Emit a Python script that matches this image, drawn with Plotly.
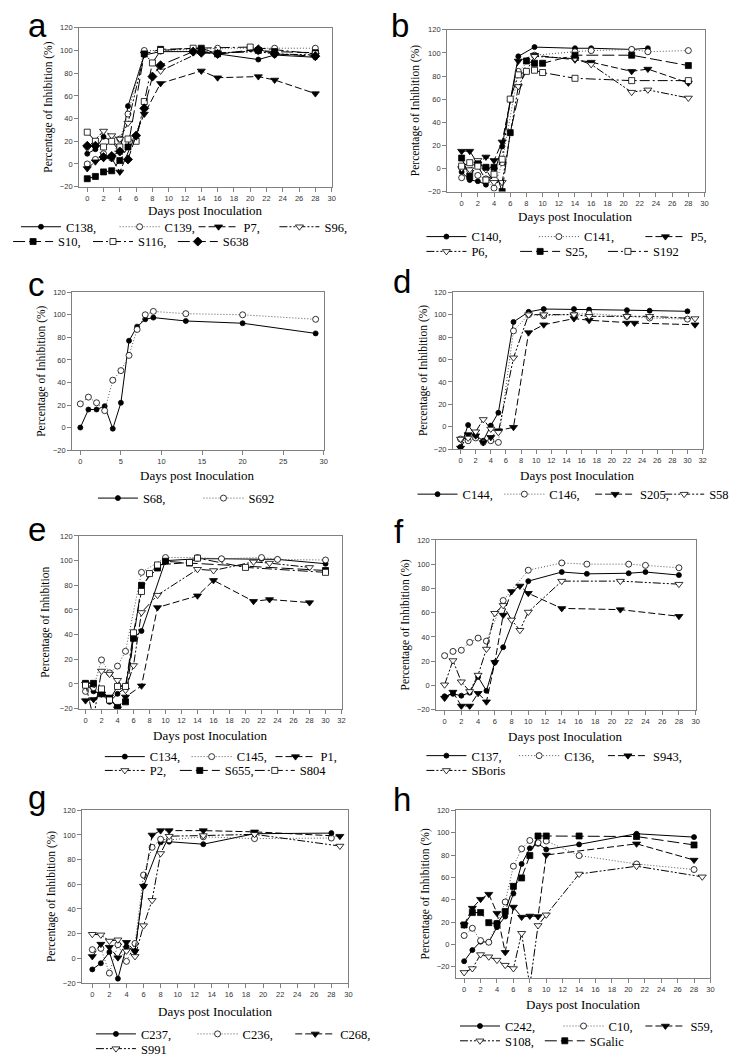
import plotly.graph_objects as go

W, H = 740, 1056

# ---------------- data (days post inoculation, % inhibition) ----------------
# panel a
A_C138_D = [0, 1, 2, 3, 4, 5, 7, 9, 14, 16, 21, 23, 28]
A_C138 = [9, 13, 24, 20, 11, 51, 96, 99, 99, 97, 92, 96, 94]
A_C139_D = [0, 1, 2, 3, 4, 5, 7, 9, 14, 16, 20, 23, 28]
A_C139 = [0, 4, 9, 5, 22, 44, 100, 100, 101, 102, 102, 102, 102]
A_P7_D = [0, 1, 2, 3, 4, 7, 9, 14, 16, 21, 23, 28]
A_P7 = [-4, 2, 5, 5, -7, 44, 71, 82, 76, 77, 74, 62]
A_S96_D = [0, 2, 3, 4, 5, 7, 9, 14, 16, 21, 23, 28]
A_S96 = [14, 29, 25, 22, 36, 97, 82, 99, 98, 99, 97, 96]
A_S10_D = [0, 1, 2, 3, 4, 5, 7, 9, 14, 16, 21, 23, 28]
A_S10 = [-13, -11, -7, -6, 3, 15, 97, 101, 102, 97, 100, 99, 98]
A_S116_D = [0, 1, 2, 3, 4, 5, 6, 7, 8, 9, 13, 20, 28]
A_S116 = [28, 20, 15, 20, 15, 22, 20, 55, 89, 100, 102, 103, 97]
A_S638_D = [0, 1, 2, 3, 4, 5, 6, 7, 8, 9, 13, 14, 16, 21, 23, 28]
A_S638 = [16, 16, 6, 7, 11, 4, 25, 49, 77, 87, 99, 98, 97, 101, 97, 95]

# panel b
B_C140_D = [0, 1, 2, 3, 4, 5, 7, 9, 14, 16, 21, 23]
B_C140 = [-3, -10, -11, -14, -5, 19, 97, 105, 104, 104, 103, 104]
B_C141_D = [0, 1, 2, 3, 4, 5, 7, 9, 14, 16, 21, 23, 28]
B_C141 = [-8, -2, -6, -9, -17, 5, 84, 98, 101, 102, 103, 101, 102]
B_P5_D = [0, 1, 2, 3, 4, 5, 7, 9, 14, 16, 21, 23, 28]
B_P5 = [15, 15, 4, 10, 7, 23, 93, 98, 94, 92, 84, 86, 74]
B_P6_D = [0, 1, 2, 3, 4, 5, 7, 9, 14, 16, 21, 23, 28]
B_P6 = [0, -1, 7, -1, -12, -12, 71, 97, 95, 90, 66, 68, 61]
B_S25_D = [0, 1, 2, 3, 4, 5, 6, 8, 9, 10, 14, 21, 28]
B_S25 = [9, -7, 4, 1, 1, -20, 31, 93, 91, 91, 98, 98, 89]
B_S192_D = [0, 1, 2, 3, 4, 5, 6, 7, 8, 9, 10, 14, 21, 28]
B_S192 = [2, 5, 2, -10, -5, 8, 60, 81, 84, 85, 83, 78, 76, 76]

# panel c
C_S68_D = [0, 1, 2, 3, 4, 5, 6, 7, 8, 9, 13, 20, 29]
C_S68 = [0, 16, 16, 19, -1, 22, 77, 89.5, 96, 97.5, 94.5, 92.5, 83.5]
C_S692_D = [0, 1, 2, 3, 4, 5, 6, 7, 8, 9, 13, 20, 29]
C_S692 = [21, 27, 22, 15, 42, 50.5, 64, 87, 100, 103, 101, 100, 96]

# panel d
D_C144_D = [0, 1, 2, 3, 4, 5, 7, 9, 11, 15, 17, 22, 25, 30]
D_C144 = [-18, 1.5, -8, -12.5, 1, 12.5, 93.5, 102.5, 105, 105, 104.5, 104, 103.5, 103]
D_C146_D = [0, 1, 2, 3, 4, 5, 7, 9, 11, 15, 17, 22, 25, 30]
D_C146 = [-11, -12.5, -10, -14, -12.5, -14, 85.5, 100, 99, 100, 101, 98.5, 97, 96]
D_S205_D = [0, 1, 2, 3, 4, 5, 7, 9, 11, 15, 17, 22, 23, 31]
D_S205 = [-19, -7, -8, -14, -9.5, -3.5, -0.5, 84, 91, 96.5, 95, 92.5, 92.5, 91]
D_S58_D = [0, 1, 2, 3, 4, 5, 7, 9, 11, 15, 17, 22, 25, 31]
D_S58 = [-11, -10, -4.5, 6.5, -2, -5, 61.5, 100, 100, 100, 98.5, 98.5, 98.5, 96.5]

# panel e
E_C134_D = [0, 1, 2, 3, 4, 5, 6, 7, 10, 14, 17, 22, 24, 30]
E_C134 = [0, -6, -8, -14.5, -8, -3, 37, 43, 100, 101.5, 101.5, 101.5, 101, 97.5]
E_C145_D = [0, 1, 2, 3, 4, 5, 7, 10, 14, 17, 22, 24, 30]
E_C145 = [-6, -3, 19.5, 9, 14.5, 26.5, 90.5, 102.5, 102.5, 101.5, 102.5, 101, 100.5]
E_P1_D = [0, 1, 2, 3, 4, 5, 7, 9, 14, 16, 21, 23, 28]
E_P1 = [-13.5, -12.5, -8, -10.5, -20, -10.5, -1.5, 62, 71.5, 84, 67, 68.5, 66]
E_P2_D = [0, 1, 2, 3, 4, 5, 6, 7, 9, 14, 16, 21, 23, 28]
E_P2 = [0, -28, 10.5, 8, 3, -5, 15, 58, 72, 93, 92, 99, 98, 94.5]
E_S655_D = [0, 1, 2, 3, 4, 5, 6, 7, 9, 10, 13, 30]
E_S655 = [0.5, 0.5, -8, -12, -19, -14.5, 37, 80, 94, 99.5, 98, 92]
E_S804_D = [0, 2, 3, 4, 5, 6, 7, 8, 9, 13, 14, 20, 30]
E_S804 = [-1, -4, -13, -2, -2, 41.5, 75, 89.5, 96.5, 98.5, 102, 94.5, 90.5]

# panel f
F_C137_D = [0, 1, 2, 3, 4, 5, 6, 7, 10, 14, 17, 22, 24, 28]
F_C137 = [-9, -7, -8.5, -6, 7, -4.5, 19, 31.5, 86, 93.5, 92, 92.5, 93.5, 91]
F_C136_D = [0, 1, 2, 3, 4, 5, 7, 10, 14, 17, 22, 24, 28]
F_C136 = [24.5, 28, 29, 35.5, 39, 36.5, 70, 95, 101, 100, 100, 99, 97]
F_S943_D = [0, 1, 2, 3, 4, 5, 6, 7, 8, 9, 10, 14, 21, 28]
F_S943 = [-10.5, -5.5, -17, -17, -6.5, -13.5, 19, 58, 77.5, 82, 76, 63.5, 62.5, 57]
F_SBORIS_D = [0, 1, 2, 3, 4, 5, 6, 7, 8, 9, 10, 14, 21, 28]
F_SBORIS = [0.5, 20.5, 3, -5, 8.5, 30, 59.5, 66, 54, 45.5, 60.5, 86, 86, 83.5]

# panel g
G_C237_D = [0, 1, 2, 3, 4, 5, 6, 8, 9, 13, 19, 28]
G_C237 = [-9, -4, 5, -16.5, 9.5, 6, 58.5, 94, 94.5, 92.5, 101, 101.5]
G_C236_D = [0, 1, 2, 3, 4, 5, 6, 7, 8, 9, 13, 19, 28]
G_C236 = [7, 8, -12, 11, -2.5, 12, 67.5, 90, 96.5, 96, 98.5, 97, 97.5]
G_C268_D = [0, 1, 2, 3, 4, 5, 6, 7, 8, 9, 13, 19, 29]
G_C268 = [1.5, 11.5, 9, 0.5, 13, 5.5, 58.5, 100, 103.5, 103.5, 103.5, 102.5, 99]
G_S991_D = [0, 1, 2, 3, 4, 5, 6, 7, 8, 9, 13, 19, 29]
G_S991 = [19.5, 19, 14, 15, 6, 1.5, 26.5, 47, 85, 99, 99.5, 100.5, 91]

# panel h
H_C242_D = [0, 1, 2, 3, 4, 5, 6, 7, 8, 9, 10, 14, 21, 28]
H_C242 = [-15, -5, 2.5, 2, 15.5, 25, 45.5, 72, 86, 90, 85, 89.5, 99, 96]
H_C10_D = [0, 1, 2, 3, 4, 5, 6, 7, 8, 9, 10, 14, 21, 28]
H_C10 = [8, 14.5, 3.5, 2, 19, 38, 70, 85.5, 93, 91, 92.5, 79.5, 72, 67]
H_S59_D = [0, 1, 2, 3, 4, 5, 6, 7, 8, 9, 10, 21, 28]
H_S59 = [17.5, 32.5, 40.5, 45, 28, -7, 33.5, 24.5, 25.5, 25, 80, 90, 75.5]
H_S108_D = [0, 1, 2, 3, 4, 5, 6, 7, 8, 9, 10, 14, 21, 29]
H_S108 = [-25, -21.5, -9, -11, -14, -18.5, -21.5, 10, -37, 17, 26.5, 63, 70, 60.5]
H_SGALIC_D = [0, 1, 2, 3, 4, 5, 6, 7, 8, 9, 10, 14, 21, 28]
H_SGALIC = [17.5, 28.5, 28.5, 19.5, 18.5, 29.5, 52, 59.5, 79.5, 97, 97, 97, 96.5, 89]

Y_TICKS = [-20, 0, 20, 40, 60, 80, 100, 120]
X_TICKS_30 = list(range(0, 31, 2))
X_TICKS_32 = list(range(0, 33, 2))
X_TICKS_C = [0, 5, 10, 15, 20, 25, 30]

X_TITLE = "Days post Inoculation"

# ---------------- styles ----------------
STYLES = [
    dict(dash="solid", symbol="circle", fill="black", size=5, color="black"),
    dict(dash="1px,2px", symbol="circle", fill="white", size=6, color="#555555"),
    dict(dash="7px,3px", symbol="triangle-down", fill="black", size=7, color="black"),
    dict(dash="8px,2px,2px,2px,2px,2px", symbol="triangle-down", fill="white", size=7, color="black"),
    dict(dash="12px,4px", symbol="square", fill="black", size=6, color="black"),
    dict(dash="10px,3px,2px,3px", symbol="square", fill="white", size=6, color="black"),
    dict(dash="12px,4px", symbol="diamond", fill="black", size=7, color="black"),
]

SERIF = "Liberation Serif, Times New Roman, serif"
SANS = "Liberation Sans, Arial, sans-serif"

# panel definitions (layout in px): plot box (x0,x1,y0,y1), letter position,
# y-title centre x, x-title centre y; series: (label, days, values, legend text x, legend row y)
PANELS = [
    dict(letter="a", box=(66, 322, 16, 177), xr=[-1, 30], xt=X_TICKS_30, yr=[-20, 120],
         yt="Percentage of Inhibition (%)", lab=(12, 27), ytx=35, xty=201,
         series=[("C138,", A_C138_D, A_C138, 52, 218), ("C139,", A_C139_D, A_C139, 152, 218),
                 ("P7,", A_P7_D, A_P7, 232, 218), ("S96,", A_S96_D, A_S96, 314, 218),
                 ("S10,", A_S10_D, A_S10, 44, 233), ("S116,", A_S116_D, A_S116, 125, 233),
                 ("S638", A_S638_D, A_S638, 211, 233)]),
    dict(letter="b", box=(439, 700, 18, 182), xr=[-1.8, 30], xt=X_TICKS_30, yr=[-20, 120],
         yt="Percentage of Inhibition (%)", lab=(380, 27), ytx=407, xty=207,
         series=[("C140,", B_C140_D, B_C140, 463, 228), ("C141,", B_C141_D, B_C141, 577, 228),
                 ("P5,", B_P5_D, B_P5, 685, 228), ("P6,", B_P6_D, B_P6, 463, 243),
                 ("S25,", B_S25_D, B_S25, 558, 243), ("S192", B_S192_D, B_S192, 647, 243)]),
    dict(letter="c", box=(59, 314, 284, 444), xr=[-1, 30], xt=X_TICKS_C, yr=[-20, 120],
         yt="Percentage of Inhibition (%)", lab=(12, 290), ytx=28, xty=470,
         series=[("S68,", C_S68_D, C_S68, 130, 493), ("S692", C_S692_D, C_S692, 237, 493)]),
    dict(letter="d", box=(445, 698, 284, 443), xr=[-1, 32], xt=X_TICKS_32, yr=[-20, 120],
         yt="Percentage of Inhibition (%)", lab=(382, 287), ytx=415, xty=470,
         series=[("C144,", D_C144_D, D_C144, 454, 489), ("C146,", D_C146_D, D_C146, 542, 489),
                 ("S205,", D_S205_D, D_S205, 634, 489), ("S58", D_S58_D, D_S58, 704, 489)]),
    dict(letter="e", box=(66, 332, 531, 706), xr=[-0.8, 32], xt=X_TICKS_32, yr=[-20, 120],
         yt="Percentage of Inhibition", lab=(12, 538), ytx=32, xty=733,
         series=[("C134,", E_C134_D, E_C134, 137, 755), ("C145,", E_C145_D, E_C145, 225, 755),
                 ("P1,", E_P1_D, E_P1, 310, 755), ("P2,", E_P2_D, E_P2, 137, 769),
                 ("S655,", E_S655_D, E_S655, 213, 769), ("S804", E_S804_D, E_S804, 289, 769)]),
    dict(letter="f", box=(428, 691, 535, 707), xr=[-1, 30], xt=X_TICKS_30, yr=[-20, 120],
         yt="Percentage of Inhibition (%)", lab=(383, 540), ytx=397, xty=734,
         series=[("C137,", F_C137_D, F_C137, 463, 754), ("C136,", F_C136_D, F_C136, 557, 754),
                 ("S943,", F_S943_D, F_S943, 647, 754), ("SBoris", F_SBORIS_D, F_SBORIS, 463, 769)]),
    dict(letter="g", box=(69, 339, 809, 984), xr=[-1.2, 30], xt=X_TICKS_30, yr=[-20, 120],
         yt="Percentage of Inhibition (%)", lab=(12, 810), ytx=38, xty=1013,
         series=[("C237,", G_C237_D, G_C237, 128, 1036), ("C236,", G_C236_D, G_C236, 231, 1036),
                 ("C268,", G_C268_D, G_C268, 330, 1036), ("S991", G_S991_D, G_S991, 128, 1051)]),
    dict(letter="h", box=(448, 706, 809, 979), xr=[-1, 30], xt=X_TICKS_30, yr=[-30, 120],
         yt="Percentage of Inhibition (%)", lab=(382, 812), ytx=417, xty=1006,
         series=[("C242,", H_C242_D, H_C242, 497, 1028), ("C10,", H_C10_D, H_C10, 602, 1028),
                 ("S59,", H_S59_D, H_S59, 685, 1028), ("S108,", H_S108_D, H_S108, 497, 1043),
                 ("SGalic", H_SGALIC_D, H_SGALIC, 583, 1043)]),
]

# per-panel series -> style index
STYLE_IDX = {
    "a": [0, 1, 2, 3, 4, 5, 6],
    "b": [0, 1, 2, 3, 4, 5],
    "c": [0, 1],
    "d": [0, 1, 2, 3],
    "e": [0, 1, 2, 3, 4, 5],
    "f": [0, 1, 2, 3],
    "g": [0, 1, 2, 3],
    "h": [0, 1, 2, 3, 4],
}

ITEM_W = 40
LEG_DX = ITEM_W + 10   # legend text sits itemwidth + 2*itemGap right of the legend's left edge

fig = go.Figure()
layout = dict(width=W, height=H, autosize=False, margin=dict(l=0, r=0, t=0, b=0),
              paper_bgcolor="white", plot_bgcolor="white", showlegend=True)
annotations = []
leg_n = 0


def px_x(v):
    return v / W


def px_y(v):
    return 1 - v / H


for pi, p in enumerate(PANELS):
    n = pi + 1
    xa = "xaxis" if n == 1 else f"xaxis{n}"
    ya = "yaxis" if n == 1 else f"yaxis{n}"
    xref = "x" if n == 1 else f"x{n}"
    yref = "y" if n == 1 else f"y{n}"
    x0, x1, y0, y1 = p["box"]
    common = dict(showline=True, linecolor="#808080", linewidth=1, mirror=True,
                  ticks="outside", ticklen=4, tickcolor="#808080", tickwidth=1,
                  tickfont=dict(family=SANS, size=7.5, color="#333333"),
                  showgrid=False, zeroline=False)
    layout[xa] = dict(common, domain=[px_x(x0), px_x(x1)], range=p["xr"], tickvals=p["xt"],
                      anchor=yref)
    layout[ya] = dict(common, domain=[px_y(y1), px_y(y0)], range=p["yr"], tickvals=Y_TICKS,
                      anchor=xref)
    for si, (label, days, vals, lx, ly) in enumerate(p["series"]):
        st = STYLES[STYLE_IDX[p["letter"]][si]]
        leg_n += 1
        lid = "legend" if leg_n == 1 else f"legend{leg_n}"
        fig.add_trace(go.Scatter(
            x=days, y=vals, name=label, mode="lines+markers", xaxis=xref, yaxis=yref,
            legend=lid,
            line=dict(color=st["color"], width=1, dash=st["dash"]),
            marker=dict(symbol=st["symbol"], size=st["size"], color=st["fill"],
                        line=dict(color="black", width=0.8)),
        ))
        layout[lid] = dict(x=px_x(lx - LEG_DX), y=px_y(ly), xanchor="left", yanchor="middle",
                           orientation="h", bgcolor="rgba(0,0,0,0)", borderwidth=0,
                           itemwidth=ITEM_W, font=dict(family=SERIF, size=12.5, color="black"),
                           itemclick=False, itemdoubleclick=False)
    # panel letter
    lx, ly = p["lab"]
    annotations.append(dict(text=p["letter"], x=px_x(lx), y=px_y(ly + 7), xref="paper", yref="paper",
                            xanchor="left", yanchor="bottom", showarrow=False,
                            font=dict(family=SANS, size=33, color="black")))
    # axis titles
    annotations.append(dict(text=X_TITLE, x=px_x((x0 + x1) / 2), y=px_y(p["xty"]),
                            xref="paper", yref="paper", xanchor="center", yanchor="middle",
                            showarrow=False, font=dict(family=SERIF, size=13, color="black")))
    annotations.append(dict(text=p["yt"], x=px_x(p["ytx"]), y=px_y((y0 + y1) / 2),
                            xref="paper", yref="paper", xanchor="center", yanchor="middle",
                            textangle=-90, showarrow=False,
                            font=dict(family=SERIF, size=11.5, color="black")))

layout["annotations"] = annotations
fig.update_layout(**layout)
fig.write_html("out.html")
